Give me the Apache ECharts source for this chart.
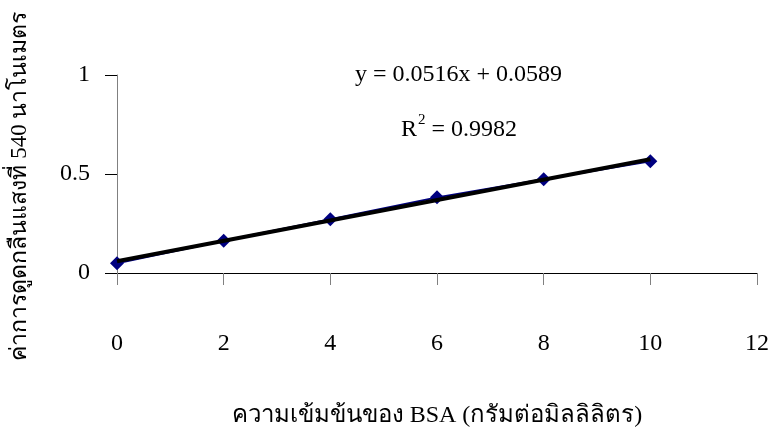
<!DOCTYPE html>
<html>
<head>
<meta charset="utf-8">
<script src="https://cdn.jsdelivr.net/npm/echarts@6/dist/echarts.min.js"></script>
<style>
  html, body { margin: 0; padding: 0; background: #ffffff; }
  #chart { width: 771px; height: 443px; }
</style>
</head>
<body>
<div id="chart"></div>
<script>
// BSA standard curve: absorbance at 540 nm versus concentration
const concentrations = [0, 2, 4, 6, 8, 10];
const absorbance = [0.049, 0.163, 0.271, 0.382, 0.473, 0.564];

// Linear fit reported on the chart
const fitSlope = 0.0516;
const fitIntercept = 0.0589;
const fitR2 = 0.9982;
const fitRange = [0, 10];

const xTicks = { min: 0, max: 12, interval: 2 };
const yTicks = { min: 0, max: 1, interval: 0.5 };

const xTitle = 'ความเข้มข้นของ BSA (กรัมต่อมิลลิลิตร)';
const yTitle = 'ค่าการดูดกลืนแสงที่ 540 นาโนเมตร';

const FONT = '"Liberation Serif", "Times New Roman", serif';

const chart = echarts.init(document.getElementById('chart'), null, { renderer: 'canvas' });

const points = concentrations.map((c, i) => [c, absorbance[i]]);
const fitLine = fitRange.map(x => [x, fitSlope * x + fitIntercept]);

chart.setOption({
  backgroundColor: '#ffffff',
  animation: false,
  grid: { left: 117, right: 14, top: 75, bottom: 170, containLabel: false, outerBoundsMode: 'none' },
  xAxis: {
    type: 'value',
    min: xTicks.min, max: xTicks.max, interval: xTicks.interval,
    name: xTitle,
    nameLocation: 'middle',
    nameGap: 131,
    nameTextStyle: { fontFamily: FONT, fontSize: 24, color: '#000' },
    axisLine: { show: true, onZero: false, lineStyle: { color: '#000', width: 1 } },
    axisTick: { show: true, inside: false, length: 12, lineStyle: { color: '#808080', width: 1 } },
    axisLabel: { margin: 59, fontFamily: FONT, fontSize: 24, color: '#000' },
    splitLine: { show: false }
  },
  yAxis: {
    type: 'value',
    min: yTicks.min, max: yTicks.max, interval: yTicks.interval,
    name: yTitle,
    nameLocation: 'middle',
    nameRotate: 90,
    nameGap: 86,
    // right padding nudges the rotated title slightly downward
    nameTextStyle: { fontFamily: FONT, fontSize: 23, color: '#000', padding: [0, 24, 0, 0] },
    axisLine: { show: true, lineStyle: { color: '#808080', width: 1 } },
    axisTick: { show: true, inside: false, length: 12, lineStyle: { color: '#000', width: 1 } },
    axisLabel: {
      margin: 27, fontFamily: FONT, fontSize: 24, color: '#000',
      formatter: v => String(v)
    },
    splitLine: { show: false }
  },
  series: [
    {
      name: 'absorbance',
      type: 'line',
      data: points,
      symbol: 'diamond',
      symbolSize: 14,
      itemStyle: { color: '#000080' },
      lineStyle: { color: '#000080', width: 2 },
      z: 2
    },
    {
      name: 'fit',
      type: 'line',
      data: fitLine,
      symbol: 'none',
      lineStyle: { color: '#000000', width: 4 },
      z: 3
    }
  ],
  graphic: [
    {
      type: 'text',
      left: 355, top: 63,
      style: {
        text: 'y = ' + fitSlope.toFixed(4) + 'x + ' + fitIntercept.toFixed(4),
        font: '24px ' + FONT,
        fill: '#000'
      }
    },
    {
      type: 'text',
      left: 401, top: 113,
      style: {
        text: '{b|R}{s|2}{b| = ' + fitR2.toFixed(4) + '}',
        rich: {
          b: { font: '24px ' + FONT, fill: '#000', verticalAlign: 'bottom' },
          s: { font: '15px ' + FONT, fill: '#000', verticalAlign: 'top', padding: [0, 0, 14, 1] }
        }
      }
    }
  ]
});
</script>
</body>
</html>
